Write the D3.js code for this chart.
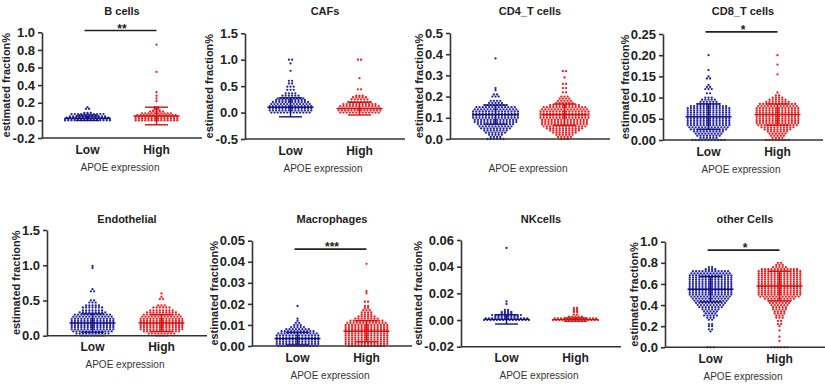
<!DOCTYPE html>
<html>
<head>
<meta charset="utf-8">
<script src="https://cdn.jsdelivr.net/npm/d3@7"></script>
<style>
body { margin: 0; background: #fff; }
text { font-family: "Liberation Sans", Arial, sans-serif; }
</style>
</head>
<body>
<script>
const width = 825;
const height = 387;

const cellTypes = ['B cells', 'CAFs', 'CD4_T cells', 'CD8_T cells', 'Endothelial', 'Macrophages', 'NKcells', 'other Cells'];
const categories = ['Low', 'High'];

// column scatter rows: [value, dots in that row]
const bCellsLow = [[0.0,15],[0.015,15],[0.03,14],[0.045,12],[0.06,6],[0.072,11],[0.085,3],[0.13,2],[0.15,1]];
const bCellsHigh = [[0.0,14],[0.02,14],[0.04,14],[0.06,13],[0.08,10],[0.1,5],[0.112,3],[0.13,2],[0.15,2],[0.22,1],[0.25,1],[0.28,1],[0.32,1],[0.55,1],[0.86,1]];
const cafsLow = [[0.0,13],[0.04,14],[0.08,14],[0.12,14],[0.16,13],[0.2,12],[0.24,10],[0.27,9],[0.32,6],[0.365,4],[0.43,3],[0.49,3],[0.55,2],[0.6,2],[0.79,1],[0.93,1],[1.0,2]];
const cafsHigh = [[0.0,13],[0.04,14],[0.08,14],[0.12,13],[0.16,11],[0.2,8],[0.25,6],[0.29,5],[0.32,3],[0.44,2],[0.65,1],[1.0,2]];
const cd4Low = [[0.0,6],[0.01,4],[0.02,5],[0.03,7],[0.04,8],[0.05,10],[0.06,11],[0.07,12],[0.08,14],[0.09,14],[0.1,15],[0.11,15],[0.12,15],[0.13,15],[0.14,14],[0.15,13],[0.16,8],[0.17,5],[0.18,4],[0.2,3],[0.21,2],[0.23,1],[0.24,1],[0.38,1]];
const cd4High = [[0.0,3],[0.01,5],[0.02,6],[0.03,8],[0.04,10],[0.05,12],[0.06,14],[0.07,15],[0.08,15],[0.09,15],[0.1,16],[0.11,16],[0.12,16],[0.13,16],[0.14,15],[0.15,14],[0.16,10],[0.17,6],[0.18,5],[0.19,4],[0.2,3],[0.22,2],[0.24,2],[0.26,2],[0.29,1],[0.32,2]];
const cd8Low = [[0.0,11],[0.005,6],[0.01,8],[0.015,9],[0.02,10],[0.025,12],[0.03,13],[0.035,14],[0.04,14],[0.045,14],[0.05,14],[0.055,14],[0.06,14],[0.065,14],[0.07,14],[0.075,14],[0.08,12],[0.085,8],[0.09,6],[0.095,5],[0.1,3],[0.11,2],[0.12,3],[0.125,2],[0.13,1],[0.145,2],[0.15,1],[0.165,1],[0.2,1]];
const cd8High = [[0.0,8],[0.005,4],[0.01,5],[0.015,6],[0.02,7],[0.025,9],[0.03,11],[0.035,13],[0.04,14],[0.045,14],[0.05,14],[0.055,14],[0.06,14],[0.065,14],[0.07,14],[0.075,14],[0.08,13],[0.085,12],[0.09,8],[0.095,6],[0.1,4],[0.105,2],[0.112,1],[0.155,1],[0.178,1],[0.2,1]];
const endoLow = [[0.0,8],[0.03,11],[0.06,13],[0.09,14],[0.12,14],[0.15,14],[0.18,14],[0.21,14],[0.24,14],[0.27,13],[0.3,12],[0.33,9],[0.36,7],[0.4,7],[0.43,5],[0.47,3],[0.5,2],[0.63,2],[0.66,1],[0.96,1],[0.99,1]];
const endoHigh = [[0.0,4],[0.03,9],[0.06,12],[0.09,14],[0.12,14],[0.15,14],[0.18,14],[0.21,14],[0.24,14],[0.27,13],[0.3,12],[0.33,10],[0.36,8],[0.4,6],[0.43,3],[0.52,2],[0.55,1],[0.6,1]];
const macroLow = [[0.0,13],[0.001,14],[0.002,14],[0.003,14],[0.004,14],[0.005,14],[0.006,13],[0.007,11],[0.008,8],[0.009,5],[0.01,3],[0.011,2],[0.012,1],[0.013,1],[0.019,1]];
const macroHigh = [[0.0,12],[0.001,14],[0.002,14],[0.003,14],[0.004,14],[0.005,14],[0.006,14],[0.007,14],[0.008,14],[0.009,14],[0.01,14],[0.011,13],[0.012,11],[0.013,8],[0.014,6],[0.015,4],[0.016,4],[0.017,3],[0.018,2],[0.019,2],[0.021,2],[0.025,1],[0.026,1],[0.039,1]];
const nkLow = [[0.0,15],[0.0012,14],[0.0025,8],[0.0037,10],[0.005,4],[0.006,4],[0.0075,2],[0.012,1],[0.014,1],[0.054,1]];
const nkHigh = [[0.0,15],[0.0012,14],[0.0025,5],[0.004,2],[0.006,2],[0.0075,2],[0.009,2]];
const otherLow = [[0.0,3],[0.15,1],[0.17,2],[0.2,2],[0.22,2],[0.26,2],[0.28,3],[0.3,5],[0.32,4],[0.34,5],[0.36,6],[0.38,8],[0.4,9],[0.42,10],[0.44,11],[0.46,12],[0.48,13],[0.5,14],[0.52,14],[0.54,14],[0.56,14],[0.58,14],[0.6,14],[0.62,14],[0.64,14],[0.66,14],[0.68,14],[0.7,13],[0.72,12],[0.74,4],[0.76,2]];
const otherHigh = [[0.0,6],[0.06,1],[0.1,1],[0.16,1],[0.2,1],[0.22,2],[0.25,2],[0.28,3],[0.3,3],[0.32,4],[0.34,4],[0.36,5],[0.38,5],[0.4,6],[0.42,7],[0.44,8],[0.46,10],[0.48,13],[0.5,14],[0.52,14],[0.54,14],[0.56,14],[0.58,14],[0.6,14],[0.62,14],[0.64,14],[0.66,14],[0.68,14],[0.7,14],[0.72,14],[0.74,12],[0.76,5],[0.78,3],[0.8,2]];

const rows = [[bCellsLow, bCellsHigh], [cafsLow, cafsHigh], [cd4Low, cd4High], [cd8Low, cd8High],
              [endoLow, endoHigh], [macroLow, macroHigh], [nkLow, nkHigh], [otherLow, otherHigh]];

// mean and SD, [Low, High]
const means = [[0.025, 0.05], [0.1, 0.075], [0.115, 0.115], [0.055, 0.06], [0.18, 0.18], [0.0035, 0.007], [0.0005, 0.0003], [0.55, 0.58]];
const sds = [[0.025, 0.1], [0.18, 0.12], [0.045, 0.05], [0.03, 0.025], [0.13, 0.12], [0.003, 0.005], [0.0035, 0.0012], [0.12, 0.14]];

const yTicks = [
  [-0.2, 0, 0.2, 0.4, 0.6, 0.8, 1.0],
  [-0.5, 0, 0.5, 1.0, 1.5],
  [0, 0.1, 0.2, 0.3, 0.4, 0.5],
  [0, 0.05, 0.1, 0.15, 0.2, 0.25],
  [0, 0.5, 1.0, 1.5],
  [0, 0.01, 0.02, 0.03, 0.04, 0.05],
  [-0.02, 0, 0.02, 0.04, 0.06],
  [0, 0.2, 0.4, 0.6, 0.8, 1.0]
];
const tickFormats = ['.1f', '.1f', '.1f', '.2f', '.1f', '.2f', '.2f', '.1f'];

// significance marks: label and the value where the bar sits
const sigLabels = ['**', '', '', '*', '', '***', '', '*'];
const sigValues = [1.02, null, null, 0.255, null, 0.046, null, 0.92];

// panel frames
const layout = [
  {left: 42, top: 32.3, bottom: 138, titleY: 14.5, catLabels: true},
  {left: 245, top: 33.3, bottom: 139, titleY: 15, catLabels: true},
  {left: 450, top: 33, bottom: 139, titleY: 15, catLabels: false},
  {left: 663, top: 34, bottom: 140, titleY: 14.5, catLabels: true},
  {left: 47, top: 230, bottom: 335.7, titleY: 223, catLabels: true},
  {left: 252, top: 240.7, bottom: 346, titleY: 222.5, catLabels: true},
  {left: 461, top: 240, bottom: 346.7, titleY: 222.5, catLabels: true},
  {left: 665, top: 241.7, bottom: 347.3, titleY: 223, catLabels: true}
];

const dotColors = ['#2424a6', '#ee1c1c'];
const barColors = ['#14147a', '#d01010'];
const axisColor = '#333';

const svg = d3.select('body').append('svg').attr('width', width).attr('height', height);

cellTypes.forEach(function(name, i) { drawPanel(name, i); });

function drawPanel(name, i) {
  const L = layout[i];
  const g = svg.append('g');

  const y = d3.scaleLinear().domain(d3.extent(yTicks[i])).range([L.bottom, L.top]);
  const x = d3.scalePoint().domain(categories).range([L.left, L.left + 160]).padding(0.66);

  categories.forEach(function(cat, k) {
    const pts = [];
    rows[i][k].forEach(function(r) {
      for (let j = 0; j < r[1]; j++) pts.push({v: r[0], off: (j - (r[1] - 1) / 2) * 3.2});
    });
    g.append('g').selectAll('circle')
      .data(pts)
      .enter()
      .append('circle')
      .attr('cx', function(d) { return x(cat) + d.off; })
      .attr('cy', function(d) { return y(d.v); })
      .attr('r', 1.15)
      .style('fill', dotColors[k]);
  });

  // mean +- SD
  categories.forEach(function(cat, k) {
    const m = means[i][k], s = sds[i][k], cx = x(cat);
    const eb = g.append('g').style('stroke', barColors[k]).style('stroke-width', 1.4);
    eb.append('line').attr('x1', cx - 23).attr('x2', cx + 23).attr('y1', y(m)).attr('y2', y(m));
    eb.append('line').attr('x1', cx).attr('x2', cx).attr('y1', y(m - s)).attr('y2', y(m + s));
    [m - s, m + s].forEach(function(v) {
      eb.append('line').attr('x1', cx - 11.5).attr('x2', cx + 11.5).attr('y1', y(v)).attr('y2', y(v));
    });
  });

  // y axis
  const fmt = d3.format(tickFormats[i]);
  const yAxis = d3.axisLeft(y)
    .tickValues(yTicks[i])
    .tickFormat(function(d) { return fmt(d).replace('\u2212', '-'); })
    .tickSize(4)
    .tickSizeOuter(0)
    .tickPadding(3);
  const ya = g.append('g').attr('transform', 'translate(' + L.left + ',0)').call(yAxis);
  ya.select('.domain').style('stroke', axisColor).style('stroke-width', 1.6);
  ya.selectAll('.tick line').style('stroke', axisColor).style('stroke-width', 1.6);
  ya.selectAll('.tick text')
    .style('font-size', '13px')
    .style('font-weight', 'bold')
    .style('fill', '#222');

  // x axis line
  g.append('line')
    .attr('x1', L.left).attr('x2', L.left + 160)
    .attr('y1', L.bottom).attr('y2', L.bottom)
    .style('stroke', axisColor).style('stroke-width', 1.6);

  if (L.catLabels) {
    g.selectAll('.cat')
      .data(categories)
      .enter()
      .append('text')
      .attr('class', 'cat')
      .attr('x', function(d) { return x(d); })
      .attr('y', L.bottom + 15.5)
      .attr('text-anchor', 'middle')
      .style('font-size', '12px')
      .style('font-weight', 'bold')
      .style('fill', '#222')
      .text(function(d) { return d; });
  }

  g.append('text')
    .attr('x', L.left + 78)
    .attr('y', L.bottom + 32.5)
    .attr('text-anchor', 'middle')
    .style('font-size', '10px')
    .style('fill', '#333')
    .text('APOE expression');

  g.append('text')
    .attr('x', L.left + 80)
    .attr('y', L.titleY)
    .attr('text-anchor', 'middle')
    .style('font-size', '11px')
    .style('font-weight', 'bold')
    .style('fill', '#222')
    .text(name);

  // y title sits just left of the widest tick label
  const bb = ya.node().getBBox();
  const ly = (L.top + L.bottom) / 2;
  const lx = L.left + bb.x - 6;
  g.append('text')
    .attr('transform', 'translate(' + lx + ',' + ly + ') rotate(-90)')
    .attr('text-anchor', 'middle')
    .attr('dy', '0.35em')
    .style('font-size', '11px')
    .style('font-weight', 'bold')
    .style('fill', '#222')
    .text('estimated fraction%');

  if (sigLabels[i]) {
    const sy = y(sigValues[i]);
    g.append('line')
      .attr('x1', x('Low') - 3).attr('x2', x('High'))
      .attr('y1', sy).attr('y2', sy)
      .style('stroke', '#222').style('stroke-width', 1.6);
    g.append('text')
      .attr('x', (x('Low') + x('High')) / 2)
      .attr('y', sy + 2)
      .attr('text-anchor', 'middle')
      .style('font-size', '12px')
      .style('font-weight', 'bold')
      .style('fill', '#222')
      .text(sigLabels[i]);
  }
}
</script>
</body>
</html>
